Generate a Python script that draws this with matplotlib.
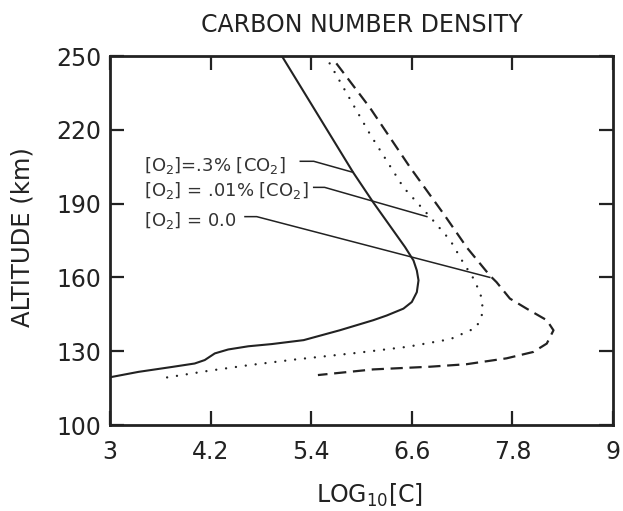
import matplotlib
matplotlib.use("Agg")
import matplotlib.pyplot as plt

# O2 = 0.3% CO2 (solid)
x_03 = [5.05, 5.90, 6.14, 6.52, 6.62, 6.66, 6.68, 6.66, 6.60, 6.50, 6.30, 6.14, 5.74, 5.31, 4.93, 4.65, 4.41, 4.25, 4.13, 4.01, 3.74, 3.34, 3.0]
y_03 = [250, 202.7, 190.5, 172.3, 166.9, 162.8, 158.8, 154.0, 150.0, 147.3, 144.5, 142.6, 138.5, 134.5, 132.9, 132.0, 130.7, 129.1, 126.4, 125.0, 123.6, 121.6, 119.4]

# O2 = 0.01% CO2 (dotted)
x_001 = [5.62, 6.10, 6.50, 6.82, 7.06, 7.21, 7.35, 7.43, 7.45, 7.37, 7.06, 6.55, 5.94, 5.20, 4.65, 4.17, 3.60]
y_001 = [247.0, 218.3, 196.6, 184.5, 175.0, 166.2, 158.8, 152.0, 145.9, 139.6, 134.9, 131.8, 129.3, 126.6, 124.3, 122.0, 118.9]

# O2 = 0.0 (dashed)
x_00 = [5.70, 6.10, 6.58, 6.98, 7.26, 7.53, 7.61, 7.77, 7.97, 8.21, 8.29, 8.21, 8.05, 7.73, 7.25, 6.82, 6.14, 5.48]
y_00 = [247.0, 229.0, 204.7, 185.8, 172.0, 160.8, 158.1, 151.4, 147.3, 142.6, 138.5, 133.1, 129.7, 127.1, 124.7, 123.7, 122.6, 120.3]

labels = ["[O$_2$]=.3% [CO$_2$]", "[O$_2$] = .01% [CO$_2$]", "[O$_2$] = 0.0"]
label_y = [205.4, 195.3, 183.1]
leader_x = [[5.27, 5.43, 5.90], [5.43, 5.56, 6.78], [4.61, 4.75, 7.53]]
leader_y = [[207.2, 207.2, 202.7], [196.6, 196.6, 184.7], [184.7, 184.7, 160.0]]

xticks = [3, 4.2, 5.4, 6.6, 7.8, 9]
xticklabels = ["3", "4.2", "5.4", "6.6", "7.8", "9"]
yticks = [100, 130, 160, 190, 220, 250]

plt.rcParams['font.family'] = ['DejaVu Sans']
plt.rcParams['mathtext.fontset'] = 'dejavusans'
ink = '#222222'
fig = plt.figure(figsize=(6.23, 5.11), dpi=100)
ax = fig.add_axes([110/623, 1-425/511, (613-110)/623, (425-56)/511])

ax.plot(x_03, y_03, color=ink, lw=1.5, solid_joinstyle='round')
ax.plot(x_001, y_001, color=ink, lw=1.7, linestyle=(0, (0.01, 4.2)), dash_capstyle='round')
ax.plot(x_00, y_00, color=ink, lw=1.6, linestyle=(0, (5.5, 3)))

for lab, ly, lx, lyy in zip(labels, label_y, leader_x, leader_y):
    ax.text(3.40, ly, lab, fontsize=13, color='#333333', va='center', ha='left')
    ax.plot(lx, lyy, color=ink, lw=1.1)

ax.set_xlim(3, 9)
ax.set_ylim(100, 250)
ax.set_xticks(xticks)
ax.set_xticklabels(xticklabels)
ax.set_yticks(yticks)
ax.tick_params(direction='in', length=10, width=1.6, top=True, right=True,
               labelsize=17, colors=ink)
ax.tick_params(axis='x', pad=11)
ax.tick_params(axis='y', pad=6)
for s in ax.spines.values():
    s.set_linewidth(2.0)
    s.set_color(ink)

ax.set_title("CARBON NUMBER DENSITY", fontsize=17, color=ink, pad=17)
ax.set_ylabel("ALTITUDE (km)", fontsize=17.5, color=ink)
ax.yaxis.set_label_coords(-0.150, 0.51)
ax.set_xlabel("LOG$_{10}$[C]", fontsize=17, color=ink)
ax.xaxis.set_label_coords(0.515, -0.155)

fig.savefig("out.png", dpi=100)
